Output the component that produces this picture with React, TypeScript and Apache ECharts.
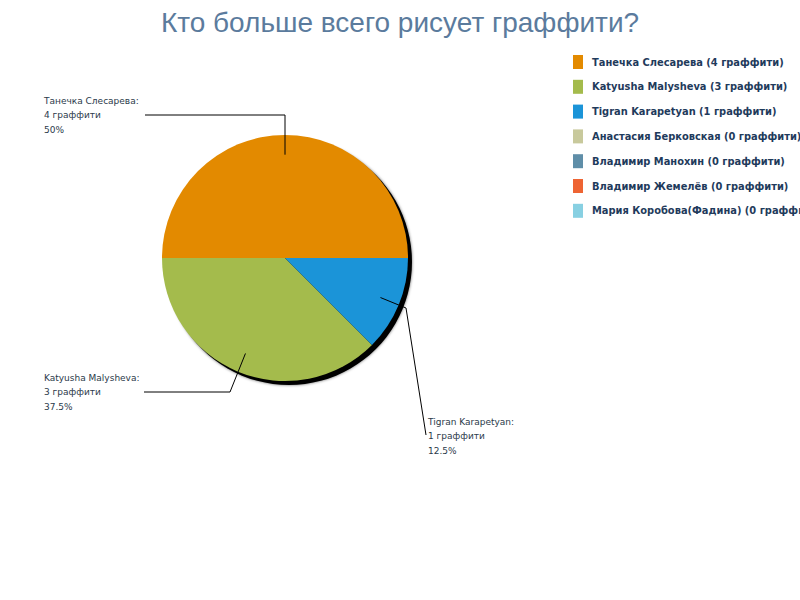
import { useEffect, useRef } from "react";
import * as echarts from "echarts";

const TITLE = "Кто больше всего рисует граффити?";
const NAMES = [
  "Танечка Слесарева",
  "Katyusha Malysheva",
  "Tigran Karapetyan",
  "Анастасия Берковская",
  "Владимир Манохин",
  "Владимир Жемелёв",
  "Мария Коробова(Фадина)",
];
const VALUES = [4, 3, 1, 0, 0, 0, 0];
const COLORS = ["#e38a00", "#a4bb4c", "#1b94d8", "#c8c99c", "#5f8ea8", "#ee6433", "#88d0e2"];
const UNIT = "граффити";

// label box (left, middle line y) and connector points for each shown slice
const LABEL_POS: Record<number, { x: number; y: number; line: number[][] }> = {
  0: { x: 44, y: 115, line: [[285, 115], [145, 115]] },
  1: { x: 44, y: 392, line: [[230, 392], [144, 392]] },
  2: { x: 428, y: 436, line: [[406, 308], [426, 435]] },
};

const CENTER = [285, 258];
const RADIUS = 123;

export default function App() {
  const ref = useRef<HTMLDivElement>(null);

  useEffect(() => {
    document.body.style.margin = "0";
    if (!ref.current) return;
    const chart = echarts.init(ref.current, undefined, { renderer: "svg" });

    const total = VALUES.reduce((a, b) => a + b, 0);
    let cum = 0;
    const connectors: any[] = [];
    VALUES.forEach((v, i) => {
      const mid = ((cum + v / 2) / total) * 2 * Math.PI;
      cum += v;
      const pos = LABEL_POS[i];
      if (!v || !pos) return;
      const r = RADIUS * 0.84;
      const start = [CENTER[0] + Math.cos(mid) * r, CENTER[1] - Math.sin(mid) * r];
      connectors.push({
        type: "polyline",
        silent: true,
        z: 10,
        shape: { points: [start, ...pos.line] },
        style: { stroke: "#000", lineWidth: 1, fill: null },
      });
    });

    chart.setOption({
      animation: false,
      title: {
        text: TITLE,
        left: "center",
        top: 3,
        textStyle: {
          fontFamily: "Liberation Sans",
          fontSize: 28,
          fontWeight: "normal",
          color: "#5b7b9d",
        },
      },
      legend: {
        orient: "vertical",
        left: 568,
        top: 50,
        itemWidth: 10,
        itemHeight: 14,
        itemGap: 10.8,
        icon: "rect",
        data: NAMES,
        formatter: (name: string) => `${name} (${VALUES[NAMES.indexOf(name)]} ${UNIT})`,
        textStyle: {
          fontFamily: "DejaVu Sans",
          fontSize: 9.9,
          fontWeight: "bold",
          color: "#1f3b5c",
          padding: [0, 0, 0, 4],
        },
      },
      graphic: connectors,
      series: [
        {
          type: "pie",
          silent: true,
          center: [CENTER[0] + 4, CENTER[1] + 4],
          radius: RADIUS,
          label: { show: false },
          labelLine: { show: false },
          itemStyle: {
            color: "#000",
            shadowBlur: 3,
            shadowColor: "rgba(0,0,0,0.6)",
          },
          data: [{ name: "", value: 1 }],
          z: 1,
        },
        {
          type: "pie",
          center: CENTER,
          radius: RADIUS,
          startAngle: 0,
          clockwise: false,
          z: 2,
          data: NAMES.map((name, i) => ({
            name,
            value: VALUES[i],
            itemStyle: { color: COLORS[i] },
            label: { show: VALUES[i] > 0 },
          })),
          label: {
            formatter: `{b}:\n{c} ${UNIT}\n{d}%`,
            fontFamily: "DejaVu Sans",
            fontSize: 9,
            lineHeight: 14.5,
            color: "#2b3a4a",
            align: "left",
          },
          labelLine: { show: false },
          labelLayout: (params: any) => {
            const p = LABEL_POS[params.dataIndex];
            if (!p) return {};
            return { x: p.x, y: p.y, align: "left", verticalAlign: "middle" };
          },
        },
      ],
    });

    return () => {
      chart.dispose();
    };
  }, []);

  return <div ref={ref} style={{ width: 800, height: 600 }} />;
}
